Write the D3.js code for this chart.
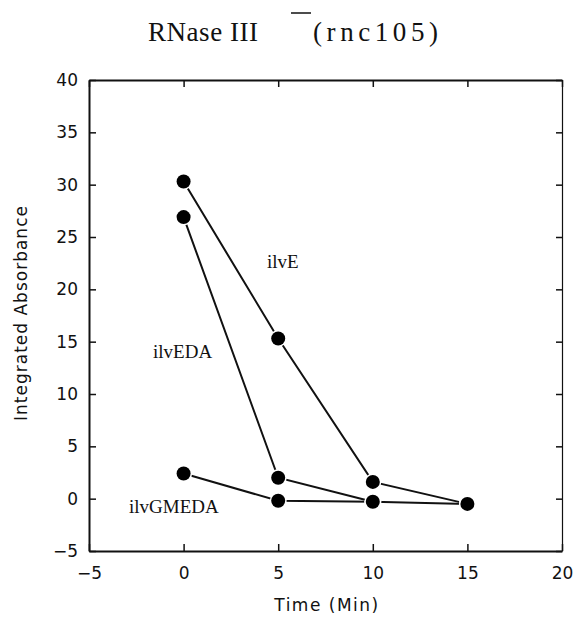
<!DOCTYPE html>
<html>
<head>
<meta charset="utf-8">
<script src="https://cdn.jsdelivr.net/npm/d3@7"></script>
<style>
  body { margin: 0; background: #fff; }
  svg { display: block; }
</style>
</head>
<body>
<div class="chart"></div>
<script>
/*------------------------------- data -------------------------------*/

const times = [0, 5, 10, 15];
const ilvE = [30.3, 15.3, 1.6, -0.5];
const ilvEDA = [26.9, 2.0, -0.3];
const ilvGMEDA = [2.4, -0.2, -0.3, -0.5];

const seriesNames = ["ilvE", "ilvEDA", "ilvGMEDA"];
const xTicks = [-5, 0, 5, 10, 15, 20];
const yTicks = [-5, 0, 5, 10, 15, 20, 25, 30, 35, 40];

/*------------------------------- setup -------------------------------*/

const size = { width: 577, height: 626 };
const box = { left: 89, right: 562, top: 80, bottom: 551 };

const svg = d3.select(".chart").append("svg")
    .attr("width", size.width)
    .attr("height", size.height);

const x = d3.scaleLinear().domain([-5, 20]).range([box.left, box.right]);
const y = d3.scaleLinear().domain([-5, 40]).range([box.bottom, box.top]);

const sans = "'DejaVu Sans', sans-serif";
const serif = "'Liberation Serif', 'DejaVu Serif', serif";

// title with the little superscript bar after "III"
const title = svg.append("g").style("font-family", serif).style("font-size", "27px").attr("fill", "#111");
title.append("text").attr("x", 148).attr("y", 41).attr("textLength", 110).attr("lengthAdjust", "spacing").text("RNase III");
title.append("text").attr("x", 313).attr("y", 41).attr("textLength", 125).attr("lengthAdjust", "spacing").text("(rnc105)");
title.append("line").attr("x1", 291).attr("x2", 311).attr("y1", 13).attr("y2", 13)
    .attr("stroke", "#111").attr("stroke-width", 1.5);

/*------------------------------- axes -------------------------------*/

const axisStyle = (g, width) => {
    g.select(".domain").attr("stroke", "#111").attr("stroke-width", width);
    g.selectAll(".tick line").attr("stroke", "#111").attr("stroke-width", 1.5);
    g.selectAll("text").attr("fill", "#111").style("font-family", sans).style("font-size", "17px");
};

svg.append("g")
    .attr("transform", `translate(0,${box.bottom})`)
    .call(d3.axisBottom(x).tickValues(xTicks).tickSize(-7).tickPadding(16).tickSizeOuter(0))
    .call(g => axisStyle(g, 2));

svg.append("g")
    .attr("transform", `translate(${box.left},0)`)
    .call(d3.axisLeft(y).tickValues(yTicks).tickSize(-7).tickPadding(11).tickSizeOuter(0))
    .call(g => axisStyle(g, 2));

svg.append("g")
    .attr("transform", `translate(0,${box.top})`)
    .call(d3.axisTop(x).tickValues(xTicks).tickSize(-7).tickFormat("").tickSizeOuter(0))
    .call(g => axisStyle(g, 2));

svg.append("g")
    .attr("transform", `translate(${box.right},0)`)
    .call(d3.axisRight(y).tickValues(yTicks).tickSize(-6).tickFormat("").tickSizeOuter(0))
    .call(g => axisStyle(g, 1.2));

svg.append("text")
    .attr("x", 327).attr("y", 611)
    .attr("text-anchor", "middle")
    .style("font-family", sans).style("font-size", "17px")
    .style("letter-spacing", "1.5px")
    .attr("fill", "#111")
    .text("Time (Min)");

svg.append("text")
    .attr("transform", "translate(27,313) rotate(-90)")
    .attr("text-anchor", "middle")
    .style("font-family", sans).style("font-size", "17px")
    .style("letter-spacing", "1px")
    .attr("fill", "#111")
    .text("Integrated Absorbance");

/*------------------------------- series -------------------------------*/

const series = [ilvE, ilvEDA, ilvGMEDA].map((vals, i) => ({
    name: seriesNames[i],
    points: vals.map((v, j) => ({ t: times[j], v: v }))
}));

const line = d3.line().x(d => x(d.t)).y(d => y(d.v));

svg.append("g").selectAll("path")
    .data(series)
    .enter()
    .append("path")
    .attr("d", d => line(d.points))
    .attr("fill", "none")
    .attr("stroke", "#111")
    .attr("stroke-width", 2);

svg.append("g").selectAll("circle")
    .data(series.flatMap(s => s.points))
    .enter()
    .append("circle")
    .attr("cx", d => x(d.t))
    .attr("cy", d => y(d.v))
    .attr("r", 7)
    .attr("fill", "#000")
    .attr("stroke", "#fff")
    .attr("stroke-width", 3)
    .attr("paint-order", "stroke");

// series labels
const labelPos = { ilvE: [267, 268], ilvEDA: [153, 358], ilvGMEDA: [129, 513] };
svg.append("g").selectAll("text")
    .data(seriesNames)
    .enter()
    .append("text")
    .attr("x", d => labelPos[d][0])
    .attr("y", d => labelPos[d][1])
    .style("font-family", serif)
    .style("font-size", "19px")
    .attr("fill", "#111")
    .text(d => d);
</script>
</body>
</html>
